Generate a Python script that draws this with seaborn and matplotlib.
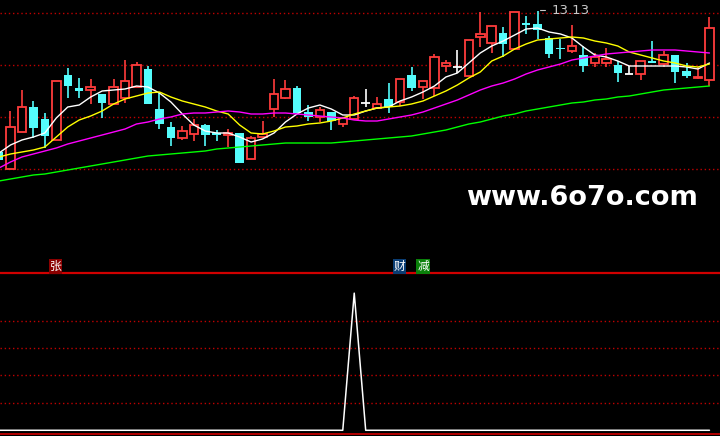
import numpy as np
import pandas as pd
import matplotlib
matplotlib.use('Agg')
import matplotlib.pyplot as plt
import seaborn as sns

# daily bars (price)
opens = [11.72, 11.55, 11.92, 12.17, 12.05, 11.84, 12.49, 12.36, 12.34, 12.30, 12.20, 12.26, 12.37, 12.55, 12.15, 11.97,
         11.86, 11.90, 11.99, 11.91, 11.89, 11.91, 11.65, 11.87, 12.15, 12.26, 12.36, 12.12, 12.07, 12.12, 12.00, 12.05,
         12.21, 12.16, 12.25, 12.22, 12.49, 12.37, 12.36, 12.58, 12.57, 12.48, 12.87, 12.81, 12.91, 12.75, 13.01, 13.00,
         12.86, 12.76, 12.73, 12.69, 12.61, 12.61, 12.59, 12.50, 12.50, 12.63, 12.60, 12.69, 12.53, 12.46, 12.44]
closes = [11.64, 11.97, 12.17, 11.96, 11.88, 12.43, 12.38, 12.33, 12.37, 12.21, 12.37, 12.43, 12.59, 12.20, 12.00, 11.86,
          11.93, 11.99, 11.89, 11.89, 11.91, 11.61, 11.86, 11.90, 12.30, 12.35, 12.11, 12.07, 12.14, 12.03, 12.06, 12.26,
          12.21, 12.20, 12.17, 12.45, 12.36, 12.43, 12.67, 12.61, 12.57, 12.84, 12.90, 12.98, 12.80, 13.12, 12.99, 12.94,
          12.70, 12.75, 12.78, 12.58, 12.67, 12.65, 12.51, 12.50, 12.63, 12.61, 12.69, 12.52, 12.48, 12.47, 12.96]
highs = [11.74, 12.13, 12.34, 12.23, 12.11, 12.43, 12.56, 12.46, 12.45, 12.30, 12.45, 12.64, 12.62, 12.58, 12.31, 12.02,
         11.98, 12.05, 12.00, 11.94, 11.95, 11.91, 11.88, 12.03, 12.45, 12.44, 12.38, 12.19, 12.17, 12.12, 12.06, 12.28,
         12.35, 12.27, 12.41, 12.45, 12.57, 12.43, 12.70, 12.64, 12.74, 12.84, 13.12, 12.98, 12.97, 13.12, 13.08, 13.13,
         12.88, 12.85, 12.99, 12.78, 12.71, 12.76, 12.63, 12.58, 12.63, 12.83, 12.73, 12.69, 12.61, 12.57, 13.07]
lows = [11.62, 11.55, 11.92, 11.86, 11.76, 11.84, 12.26, 12.26, 12.20, 12.06, 12.20, 12.21, 12.37, 12.20, 11.95, 11.78,
        11.84, 11.83, 11.78, 11.83, 11.77, 11.61, 11.65, 11.86, 12.07, 12.25, 12.11, 12.03, 12.02, 11.94, 11.97, 12.05,
        12.17, 12.16, 12.11, 12.18, 12.33, 12.25, 12.28, 12.52, 12.51, 12.48, 12.77, 12.71, 12.67, 12.75, 12.90, 12.85,
        12.66, 12.65, 12.71, 12.52, 12.57, 12.57, 12.42, 12.50, 12.44, 12.61, 12.57, 12.41, 12.46, 12.45, 12.38]

# moving averages as drawn
ma5 = [11.71, 11.79, 11.84, 11.87, 11.91, 12.06, 12.17, 12.19, 12.27, 12.33, 12.34, 12.35, 12.38, 12.37, 12.31, 12.22,
       12.10, 11.99, 11.93, 11.91, 11.91, 11.87, 11.82, 11.85, 11.91, 12.02, 12.10, 12.16, 12.19, 12.15, 12.09, 12.09,
       12.13, 12.16, 12.17, 12.23, 12.27, 12.32, 12.38, 12.47, 12.51, 12.61, 12.71, 12.78, 12.83, 12.89, 12.95, 12.96,
       12.92, 12.90, 12.86, 12.77, 12.69, 12.67, 12.63, 12.58, 12.58, 12.58, 12.58, 12.58, 12.57, 12.55, 12.61]
ma10 = [11.67, 11.70, 11.72, 11.74, 11.77, 11.87, 11.97, 12.04, 12.08, 12.13, 12.20, 12.25, 12.28, 12.31, 12.32, 12.27,
        12.23, 12.20, 12.17, 12.13, 12.10, 11.99, 11.91, 11.90, 11.93, 11.97, 11.98, 12.00, 12.01, 12.03, 12.06, 12.10,
        12.13, 12.16, 12.17, 12.18, 12.20, 12.23, 12.28, 12.33, 12.39, 12.46, 12.52, 12.63, 12.68, 12.75, 12.80, 12.84,
        12.85, 12.86, 12.87, 12.86, 12.83, 12.81, 12.78, 12.72, 12.69, 12.66, 12.63, 12.61, 12.58, 12.57, 12.60]
ma20 = [11.56, 11.62, 11.67, 11.70, 11.73, 11.76, 11.80, 11.83, 11.86, 11.89, 11.92, 11.95, 12.00, 12.02, 12.05, 12.07,
        12.10, 12.11, 12.11, 12.12, 12.13, 12.12, 12.10, 12.10, 12.11, 12.11, 12.10, 12.09, 12.08, 12.07, 12.06, 12.04,
        12.03, 12.03, 12.05, 12.07, 12.09, 12.12, 12.16, 12.20, 12.24, 12.29, 12.34, 12.38, 12.41, 12.45, 12.50, 12.54,
        12.57, 12.60, 12.64, 12.66, 12.68, 12.70, 12.71, 12.72, 12.73, 12.74, 12.74, 12.74, 12.73, 12.72, 12.71]
ma60 = [11.43, 11.45, 11.47, 11.49, 11.50, 11.52, 11.54, 11.56, 11.58, 11.60, 11.62, 11.64, 11.66, 11.68, 11.69, 11.70,
        11.71, 11.72, 11.73, 11.75, 11.76, 11.77, 11.78, 11.79, 11.80, 11.81, 11.81, 11.81, 11.81, 11.81, 11.82, 11.83,
        11.84, 11.85, 11.86, 11.87, 11.88, 11.90, 11.92, 11.94, 11.97, 12.00, 12.02, 12.05, 12.08, 12.10, 12.13, 12.15,
        12.17, 12.19, 12.21, 12.22, 12.24, 12.25, 12.27, 12.28, 12.30, 12.32, 12.34, 12.35, 12.36, 12.37, 12.38]

# indicator panel
signal = [0] * 31 + [100] + [0] * 31
price_grid = [13.11, 12.59, 12.07, 11.55]
signal_grid = [20, 40, 60, 80]
peak_label = '13.13'
tags = ['张', '财', '减']

RED = '#ff3c3c'
CYAN = '#54fcfc'
GRID = '#c00000'

df = pd.DataFrame({'o': opens, 'c': closes, 'h': highs, 'l': lows,
                   'ma5': ma5, 'ma10': ma10, 'ma20': ma20, 'ma60': ma60, 'sig': signal})
df['i'] = np.arange(len(df))

sns.set_theme(style='dark', rc={'axes.facecolor': 'black', 'figure.facecolor': 'black'})
plt.rcParams['font.family'] = ['Noto Sans CJK SC', 'DejaVu Sans']

fig = plt.figure(figsize=(7.2, 4.36), dpi=100, facecolor='black')
ax = fig.add_axes([0, 164 / 436, 1, 272 / 436])
ax2 = fig.add_axes([0, 0.004, 1, 161 / 436])

for a in (ax, ax2):
    a.set_facecolor('black')
    a.set_xlim(0.087, 62.92)
    a.set_xticks([])
    a.set_yticks([])
    a.grid(False)
    for s in a.spines.values():
        s.set_visible(False)

ax.set_ylim(10.52, 13.24)
for lv in price_grid:
    ax.axhline(lv, color=GRID, lw=1.0, ls=(0, (1, 2)), zorder=1)

up = df[df.c > df.o]
dn = df[df.c < df.o]
flat = df[df.c == df.o]
w = 0.74

# up candles: hollow red
ax.vlines(up.i, up.c, up.h, color=RED, lw=1.2, zorder=2)
ax.vlines(up.i, up.l, up.o, color=RED, lw=1.2, zorder=2)
ax.bar(up.i, up.c - up.o, bottom=up.o, width=w, facecolor='black', edgecolor=RED, linewidth=1.3, zorder=3)
# down candles: filled cyan
ax.vlines(dn.i, dn.l, dn.h, color=CYAN, lw=1.2, zorder=2)
ax.bar(dn.i, dn.o - dn.c, bottom=dn.c, width=w, color=CYAN, linewidth=0, zorder=3)
# doji
ax.vlines(flat.i, flat.l, flat.h, color='white', lw=1.2, zorder=2)
ax.hlines(flat.o, flat.i - w / 2, flat.i + w / 2, color='white', lw=1.3, zorder=3)

sns.lineplot(data=df, x='i', y='ma5', color='white', lw=1, ax=ax, zorder=4)
sns.lineplot(data=df, x='i', y='ma10', color='#ffff00', lw=1, ax=ax, zorder=4)
sns.lineplot(data=df, x='i', y='ma20', color='#ff00ff', lw=1, ax=ax, zorder=4)
sns.lineplot(data=df, x='i', y='ma60', color='#00ff00', lw=1, ax=ax, zorder=4)
ax.set_xlabel('')
ax.set_ylabel('')

# highest price marker
k = int(np.argmax(highs))
ax.annotate(peak_label, xy=(k, highs[k]), xytext=(k + 1.2, highs[k] + 0.01),
            color='#c8c8c8', fontsize=9.5, va='center', ha='left', family='DejaVu Sans',
            arrowprops=dict(arrowstyle='-', color='#c8c8c8', lw=0.8,
                            connectionstyle='angle,angleA=0,angleB=90,rad=0'))

# watermark
fig.text(582 / 720, 1 - 198 / 436, 'www.6o7o.com', color='white', fontsize=19.5,
         fontweight='bold', ha='center', va='center', family='DejaVu Sans')

# indicator panel
ax2.set_ylim(-2.9, 114.5)
for lv in signal_grid:
    ax2.axhline(lv, color=GRID, lw=1.0, ls=(0, (1, 2)), zorder=1)
ax2.spines['top'].set_visible(True)
ax2.spines['top'].set_color('#d00000')
ax2.spines['top'].set_linewidth(1.6)
ax2.spines['bottom'].set_visible(True)
ax2.spines['bottom'].set_color('#d00000')
ax2.spines['bottom'].set_linewidth(1.2)
sns.lineplot(data=df, x='i', y='sig', color='white', lw=1.1, ax=ax2, zorder=3)
ax2.set_xlabel('')
ax2.set_ylabel('')

tag_x = [55.5, 399.5, 423]
tag_bg = ['#8b0000', '#0a3d73', '#0a800a']
for t, tx, bg in zip(tags, tag_x, tag_bg):
    fig.text(tx / 720, 1 - 266.5 / 436, t, color='white', fontsize=8.5, ha='center', va='center',
             bbox=dict(facecolor=bg, edgecolor='none', pad=0.6))

fig.savefig('out.png', dpi=100, facecolor='black')
